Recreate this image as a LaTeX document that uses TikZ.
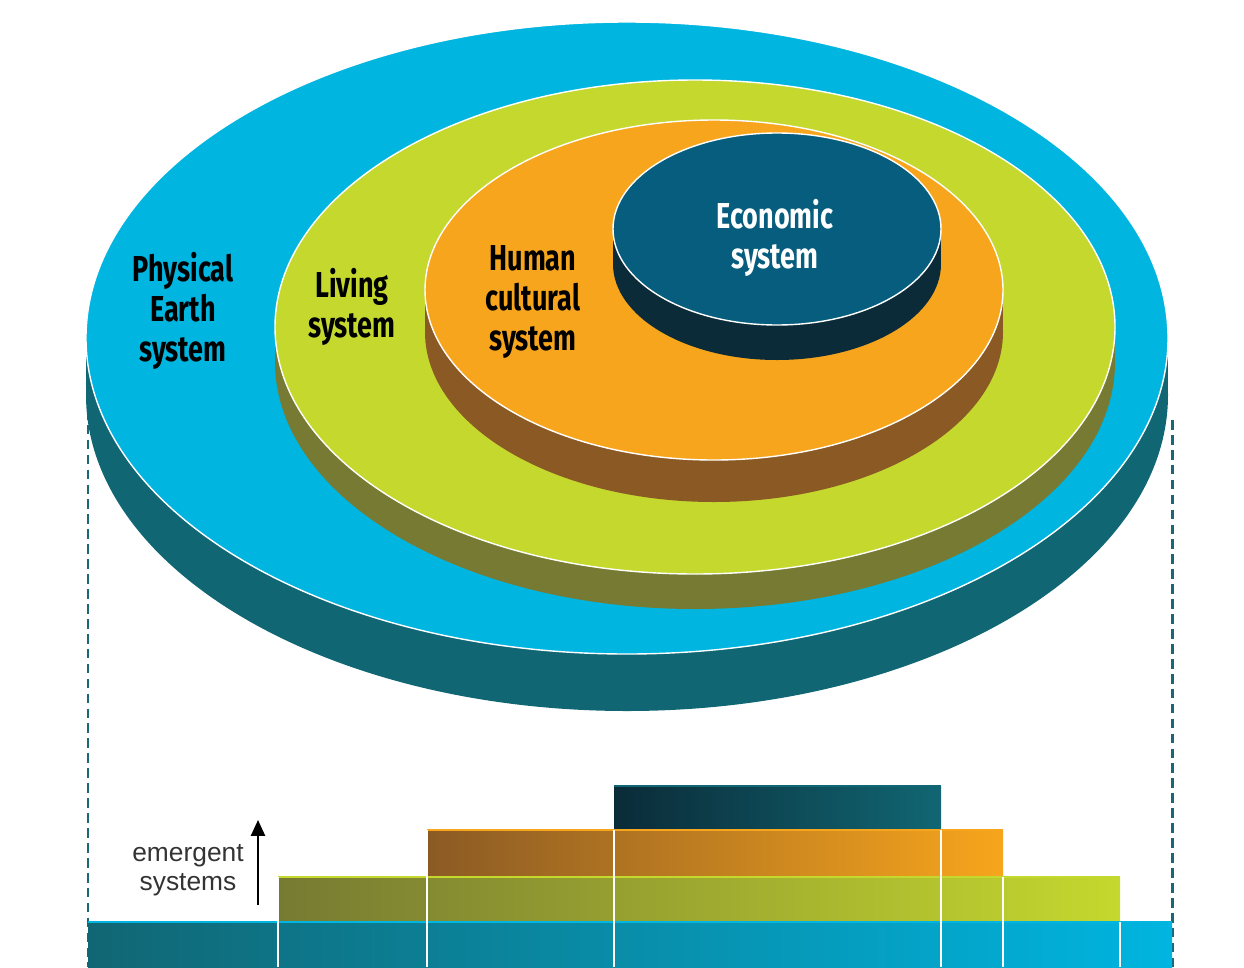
\documentclass[tikz,border=0pt]{standalone}
\usepackage{fontspec}
\setmainfont{Liberation Sans}
\newfontfamily\systemfont[FakeStretch=0.75]{Fira Sans}
\usetikzlibrary{arrows.meta}

\definecolor{earthtop}{RGB}{0,181,224}
\definecolor{earthside}{RGB}{17,102,115}
\definecolor{livingtop}{RGB}{196,216,46}
\definecolor{livingside}{RGB}{119,122,50}
\definecolor{humantop}{RGB}{247,165,28}
\definecolor{humanside}{RGB}{139,90,36}
\definecolor{econtop}{RGB}{7,93,126}
\definecolor{econside}{RGB}{11,43,56}
\definecolor{guide}{RGB}{26,104,118}

% disc: centre x, centre y, x radius, y radius, depth, top colour, side colour
\newcommand{\drawdisc}[7]{%
  \fill[#7] (#1-#3,#2) rectangle (#1+#3,#2+#5);
  \fill[#7] (#1,#2+#5) ellipse [x radius=#3, y radius=#4];
  \filldraw[fill=#6, draw=white, line width=0.8pt] (#1,#2) ellipse [x radius=#3, y radius=#4];
}

\tikzset{
  syslabel/.style={font=\systemfont\bfseries\fontsize{20.5}{22.7}\selectfont, align=center, text=black, inner sep=0pt},
  guideline/.style={guide, line width=1.7pt, dash pattern=on 5.5pt off 3pt},
  septum/.style={white, line width=1pt},
}

\begin{document}
\begin{tikzpicture}[x=0.02cm, y=-0.02cm]
  \useasboundingbox (0,0) rectangle (1244,967);

  % guides down to the bars
  \coordinate (guideLtop) at (88,380);
  \coordinate (guideLbot) at (88,967);
  \coordinate (guideRtop) at (1172,420);
  \coordinate (guideRbot) at (1172,967);
  \draw[guideline] (guideLtop) -- (guideLbot);
  \draw[guideline] (guideRtop) -- (guideRbot);

  % nested discs
  \drawdisc{627}{338}{541}{316}{57}{earthtop}{earthside}
  \drawdisc{695}{327}{420}{247}{35}{livingtop}{livingside}
  \drawdisc{714}{290}{289}{170}{42}{humantop}{humanside}
  \drawdisc{777}{229}{164}{96}{35}{econtop}{econside}

  \node[syslabel] (earth) at (183,311) {Physical\\Earth\\system};
  \node[syslabel] (living) at (352,307) {Living\\system};
  \node[syslabel] (human) at (533,302) {Human\\cultural\\system};
  \node[syslabel, text=white] (econ) at (775,238) {Economic\\system};

  % emergent levels
  \shade[left color=earthside, right color=earthtop] (88,922) rectangle (1172,967);
  \shade[left color=livingside, right color=livingtop] (278,877) rectangle (1120,922);
  \shade[left color=humanside, right color=humantop] (427,830) rectangle (1003,877);
  \shade[left color=econside, right color=earthside] (614,786) rectangle (941,830);
  \draw[earthtop, line width=1.2pt] (88,922) -- (1172,922);
  \draw[livingtop, line width=1.2pt] (278,877) -- (1120,877);
  \draw[humantop, line width=1.2pt] (427,830) -- (1003,830);
  \draw[earthside, line width=1.2pt] (614,786) -- (941,786);

  \foreach \sx/\sy in {278/877, 427/830, 614/830, 941/830, 1003/877, 1120/922}
    \draw[septum] (\sx,\sy) -- (\sx,967);

  \node[font=\fontsize{15}{16.4}\selectfont, text=black!80, align=center] (emergent) at (188,870) {emergent\\systems};
  \coordinate (risefoot) at (258,905);
  \coordinate (risetip) at (258,820);
  \draw[-{Triangle[length=9pt,width=8pt]}, line width=1.1pt] (risefoot) -- (risetip);
\end{tikzpicture}
\end{document}
